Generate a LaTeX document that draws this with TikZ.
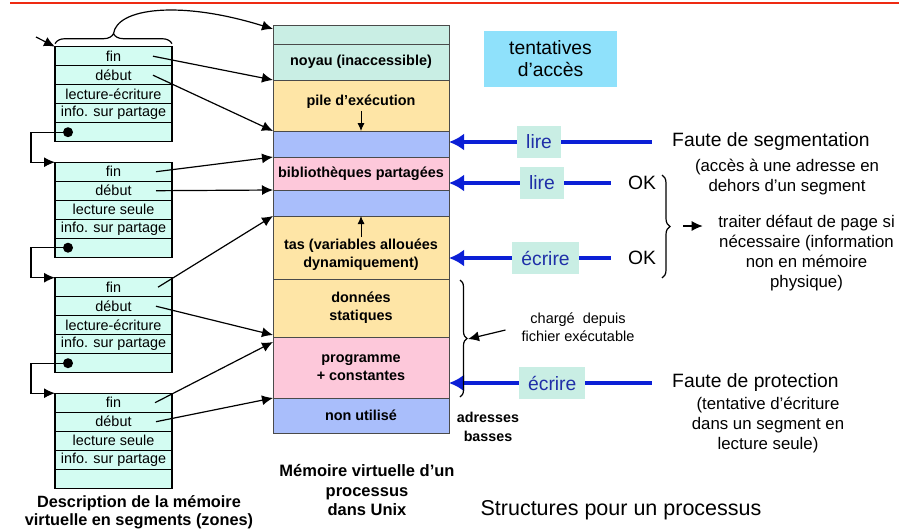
\documentclass[tikz,border=0pt]{standalone}
\usepackage{fontspec}
\setmainfont{Liberation Sans}
\usetikzlibrary{arrows.meta,positioning,decorations.pathreplacing}
\definecolor{rouge}{HTML}{EE2A12}
\definecolor{turq}{HTML}{C9EEE4}
\definecolor{jaune}{HTML}{FEE5A6}
\definecolor{bleuz}{HTML}{A9BEFB}
\definecolor{rose}{HTML}{FDC8DA}
\definecolor{aqua}{HTML}{D3FCF2}
\definecolor{ciel}{HTML}{8FE1FB}
\definecolor{bleuf}{HTML}{0B1FD6}
\definecolor{encre}{HTML}{1F2FA8}
\definecolor{bord}{HTML}{4A4A4A}
\tikzset{
  zone/.style={draw=bord,line width=1pt,minimum width=176pt,outer sep=0pt,inner sep=0pt,align=center,font=\fontsize{14.4}{18}\selectfont\bfseries},
  noyauz/.style={zone,fill=turq},
  pilez/.style={zone,fill=jaune},
  libre/.style={zone,fill=bleuz},
  partz/.style={zone,fill=rose},
  zonetxt/.style={inner sep=2pt,align=center,font=\fontsize{14.4}{18}\selectfont\bfseries},
  ligne/.style={draw=black,line width=1.2pt,fill=aqua,minimum width=117pt,minimum height=19pt,outer sep=0pt,inner sep=0pt,font=\fontsize{14.4}{16}\selectfont},
  puce/.style={circle,fill=black,inner sep=0pt,minimum size=10pt},
  fleche/.style={-{Latex[length=11pt,width=10pt]},line width=1.2pt},
  petite/.style={-{Latex[length=8pt,width=7pt]},line width=0.9pt},
  acces/.style={-{Latex[length=15pt,width=17pt]},line width=4pt,draw=bleuf},
  etiq/.style={fill=turq,text=encre,font=\fontsize{19.3}{22}\selectfont,inner xsep=9pt,minimum height=32pt},
  encadre/.style={fill=ciel,minimum width=133pt,minimum height=56pt,align=center,font=\fontsize{19.3}{22}\selectfont},
  grand/.style={font=\fontsize{19.3}{23}\selectfont},
  moyen/.style={font=\fontsize{16.8}{20}\selectfont,align=center},
  petit/.style={font=\fontsize{14.5}{18}\selectfont,align=center},
  titre/.style={font=\fontsize{16.5}{19.5}\selectfont\bfseries,align=center},
  accolade/.style={decorate,decoration={brace,amplitude=#1},line width=1.2pt}
}
\begin{document}
\begin{tikzpicture}[x=1pt,y=-1pt,node distance=0pt]
\useasboundingbox (0,0) rectangle (899,531);
\draw[rouge,line width=2.5pt] (10,3) -- (899,3);

% memoire virtuelle
\node[noyauz,minimum height=19pt] (haut) at (361,34.5) {};
\node[noyauz,minimum height=36pt,below=of haut] (noyau) {noyau (inaccessible)};
\node[pilez,minimum height=51pt,below=of noyau] (pile) {};
\node[libre,minimum height=26pt,below=of pile] (libre1) {};
\node[partz,minimum height=33pt,below=of libre1] (biblio) {bibliothèques partagées};
\node[libre,minimum height=26pt,below=of biblio] (libre2) {};
\node[pilez,minimum height=63pt,below=of libre2] (tas) {};
\node[pilez,minimum height=58pt,below=of tas] (donnees) {données\\statiques};
\node[partz,minimum height=61pt,below=of donnees] (prog) {programme\\+ constantes};
\node[libre,minimum height=35pt,below=of prog] (inutil) {non utilisé};
\node[zonetxt] (piletxt) at ([yshift=3.5pt]pile.center) {pile d'exécution};
\draw[petite] (piletxt) -- (piletxt |- pile.south);
\node[zonetxt] (tastxt) at ([yshift=-7.5pt]tas.center) {tas (variables allouées\\dynamiquement)};
\draw[petite] (tastxt) -- (tastxt |- tas.north);

% segments
\node[ligne] (t1fin) at (113.5,56.2) {fin};
\node[ligne,below=of t1fin] (t1deb) {début};
\node[ligne,below=of t1deb] (t1droit) {lecture-écriture};
\node[ligne,below=of t1droit] (t1info) {info. sur partage};
\node[ligne,below=of t1info] (t1suiv) {};
\node[ligne,below=20.5pt of t1suiv] (t2fin) {fin};
\node[ligne,below=of t2fin] (t2deb) {début};
\node[ligne,below=of t2deb] (t2droit) {lecture seule};
\node[ligne,below=of t2droit] (t2info) {info. sur partage};
\node[ligne,below=of t2info] (t2suiv) {};
\node[ligne,below=20.5pt of t2suiv] (t3fin) {fin};
\node[ligne,below=of t3fin] (t3deb) {début};
\node[ligne,below=of t3deb] (t3droit) {lecture-écriture};
\node[ligne,below=of t3droit] (t3info) {info. sur partage};
\node[ligne,below=of t3info] (t3suiv) {};
\node[ligne,below=20.5pt of t3suiv] (t4fin) {fin};
\node[ligne,below=of t4fin] (t4deb) {début};
\node[ligne,below=of t4deb] (t4droit) {lecture seule};
\node[ligne,below=of t4droit] (t4info) {info. sur partage};
\node[ligne,below=of t4info] (t4suiv) {};

% chainage
\draw[fleche] (t1suiv.west) ++(13,0) -- ++(-37,0) |- (t2fin.north west);
\draw[fleche] (t2suiv.west) ++(13,0) -- ++(-37,0) |- (t3fin.north west);
\draw[fleche] (t3suiv.west) ++(13,0) -- ++(-37,0) |- (t4fin.north west);
\node[puce] (p1) at ([xshift=13pt]t1suiv.west) {};
\node[puce] (p2) at ([xshift=13pt]t2suiv.west) {};
\node[puce] (p3) at ([xshift=13pt]t3suiv.west) {};
\coordinate (entree) at (36,37);
\draw[fleche] (entree) -- (t1fin.north west);
\draw[accolade=10pt] ([yshift=3pt]t1fin.north west) -- ([yshift=3pt]t1fin.north east);
\coordinate (sommet) at ([yshift=13pt]t1fin.north);
\draw[fleche] (sommet) .. controls (117,8) and (180,0) .. ([yshift=-4pt]haut.north west);

% debut / fin
\draw[fleche] ([xshift=-19pt]t1fin.east) -- (pile.north west);
\draw[fleche] ([xshift=-19pt]t1deb.east) -- (libre1.north west);
\draw[fleche] ([xshift=-16pt]t2fin.east) -- (biblio.north west);
\draw[fleche] ([xshift=-16pt]t2deb.east) -- (libre2.north west);
\draw[fleche] ([xshift=-14pt]t3fin.east) -- (tas.north west);
\draw[fleche] ([xshift=-16pt]t3deb.east) -- ([yshift=2pt]prog.north west);
\draw[fleche] ([xshift=-17pt]t4fin.east) -- ([yshift=-5pt]prog.north west);
\draw[fleche] ([xshift=-16pt]t4deb.east) -- (inutil.north west);

% acces
\node[encadre] (tentatives) at (550.5,59) {tentatives\\d'accès};
\node[grand,anchor=west] (fseg) at (668.7,142) {Faute de segmentation};
\node[moyen] (fsegexp) at (787,177) {(accès à une adresse en\\dehors d'un segment};
\node[grand] (ok1) at (642,183) {OK};
\node[grand] (ok2) at (642,258) {OK};
\node[moyen] (traiter) at (806.5,253) {traiter défaut de page si\\nécessaire (information\\non en mémoire\\physique)};
\node[grand,anchor=west] (fprot) at (668.7,383) {Faute de protection};
\node[moyen] (fprotexp) at (768,425) {(tentative d'écriture\\dans un segment en\\lecture seule)};
\draw[acces,shorten <=17pt] (fseg) -- node[etiq,pos=0.59]{lire} (fseg -| libre1.east);
\draw[acces,shorten <=14pt] (ok1) -- node[etiq,pos=0.47]{lire} (ok1 -| biblio.east);
\draw[acces,shorten <=14pt] (ok2) -- node[etiq,pos=0.45]{écrire} (ok2 -| tas.east);
\draw[acces,shorten <=17pt] (fprot) -- node[etiq,pos=0.53]{écrire} (fprot -| prog.east);
\draw[accolade=8pt] (662,175) -- (662,278);
\coordinate (pointeok) at (683,226);
\draw[fleche,shorten >=12pt] (pointeok) -- (pointeok -| traiter.west);

% fichier executable
\draw[accolade=7pt] (460,280) -- (460,397);
\coordinate (pointeprog) at (468,339);
\node[petit] (charge) at (578,327) {chargé\ \ depuis\\fichier exécutable};
\draw[fleche,shorten <=13pt] (charge.west) -- (pointeprog);
\node[zonetxt,font=\fontsize{14.3}{19}\selectfont\bfseries] (adresses) at (488,427) {adresses\\basses};

% legendes
\node[titre] (legmem) at (367,490.5) {Mémoire virtuelle d'un\\processus\\dans Unix};
\node[titre,font=\fontsize{16.3}{18.5}\selectfont\bfseries] (legseg) at (139,512) {Description de la mémoire\\virtuelle en segments (zones)};
\node[font=\fontsize{21.5}{24}\selectfont] (structures) at (621,510) {Structures pour un processus};
\end{tikzpicture}
\end{document}
